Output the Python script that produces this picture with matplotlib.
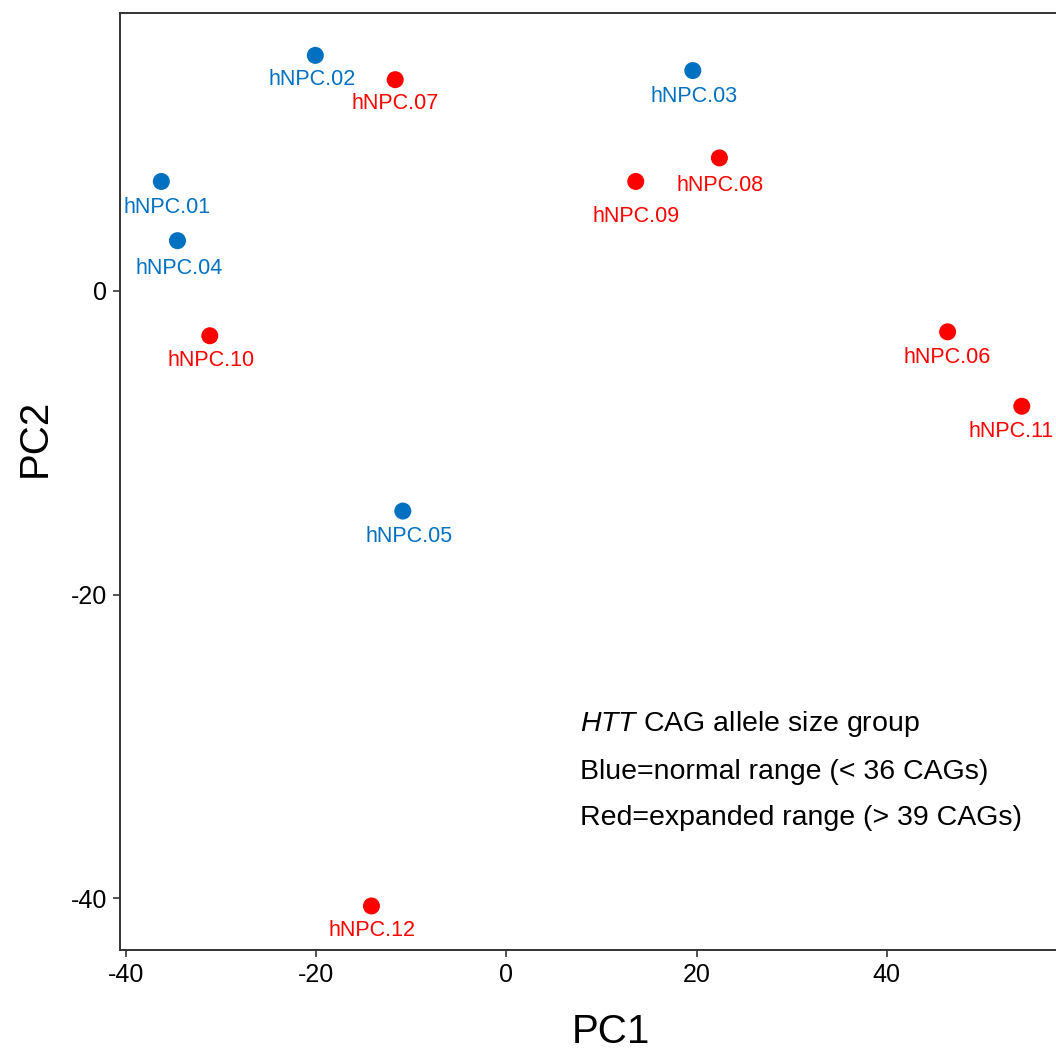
import matplotlib
matplotlib.use("Agg")
import matplotlib.pyplot as plt

# PCA scores
samples = ["hNPC.01", "hNPC.02", "hNPC.03", "hNPC.04", "hNPC.05", "hNPC.06",
           "hNPC.07", "hNPC.08", "hNPC.09", "hNPC.10", "hNPC.11", "hNPC.12"]
pc1 = [-36.3, -20.1, 19.6, -34.6, -10.9, 46.4, -11.7, 22.4, 13.6, -31.2, 54.2, -14.2]
pc2 = [7.2, 15.5, 14.5, 3.3, -14.5, -2.7, 13.9, 8.75, 7.2, -2.96, -7.6, -40.5]
group = ["normal", "normal", "normal", "normal", "normal", "expanded",
         "expanded", "expanded", "expanded", "expanded", "expanded", "expanded"]

x_ticks = [-40, -20, 0, 20, 40]
y_ticks = [-40, -20, 0]

# label offsets (pixels) as placed by the repel layout
label_dx = [6, -3, 1, 2, 6, 0, 0, 1, 0, 1, -11, 1]
label_dy = [-26, -24, -26, -28, -25, -26, -24, -28, -35, -25, -25, -25]

colors = {"normal": "#0070C0", "expanded": "#FF0000"}

plt.rcParams['font.family'] = ['Liberation Sans', 'DejaVu Sans']
plt.rcParams['axes.unicode_minus'] = False
plt.rcParams['mathtext.fontset'] = 'custom'
plt.rcParams['mathtext.rm'] = 'Liberation Sans'
plt.rcParams['mathtext.it'] = 'Liberation Sans:italic'

fig = plt.figure(figsize=(10.56, 10.53), dpi=100)
ax = fig.add_axes([0.1136, 0.0978, 0.8864, 0.890])

for x, y, g in zip(pc1, pc2, group):
    ax.scatter(x, y, s=150, color=colors[g], edgecolors='none', zorder=3)

for name, x, y, g, dx, dy in zip(samples, pc1, pc2, group, label_dx, label_dy):
    ax.annotate(name, xy=(x, y), xytext=(dx, dy), textcoords='offset pixels',
                ha='center', va='center', fontsize=15.5, color=colors[g])

ax.set_xlim(-40.65, 57.8)
ax.set_ylim(-43.4, 18.3)
ax.set_xticks(x_ticks)
ax.set_yticks(y_ticks)
ax.tick_params(axis='both', labelsize=18, length=5, width=1.2, color='#333333',
               direction='out', pad=4)

for side in ['left', 'bottom', 'top']:
    ax.spines[side].set_color('#333333')
    ax.spines[side].set_linewidth(1.4)
ax.spines['right'].set_visible(False)

ax.set_xlabel("PC1", fontsize=29)
ax.set_ylabel("PC2", fontsize=29)
ax.xaxis.set_label_coords(0.5246, -0.0875)
ax.xaxis.label.set_va('center')
ax.yaxis.set_label_coords(-0.0908, 0.547)
ax.yaxis.label.set_va('center')

# group description
fig.text(0.549, 1 - 724 / 1053, r"$\mathit{HTT}$ CAG allele size group",
         fontsize=20.5, va='center', ha='left')
fig.text(0.549, 1 - 772 / 1053, "Blue=normal range (< 36 CAGs)",
         fontsize=20.5, va='center', ha='left')
fig.text(0.549, 1 - 818 / 1053, "Red=expanded range (> 39 CAGs)",
         fontsize=20.5, va='center', ha='left')

fig.savefig("out.png", dpi=100)
plt.close(fig)
